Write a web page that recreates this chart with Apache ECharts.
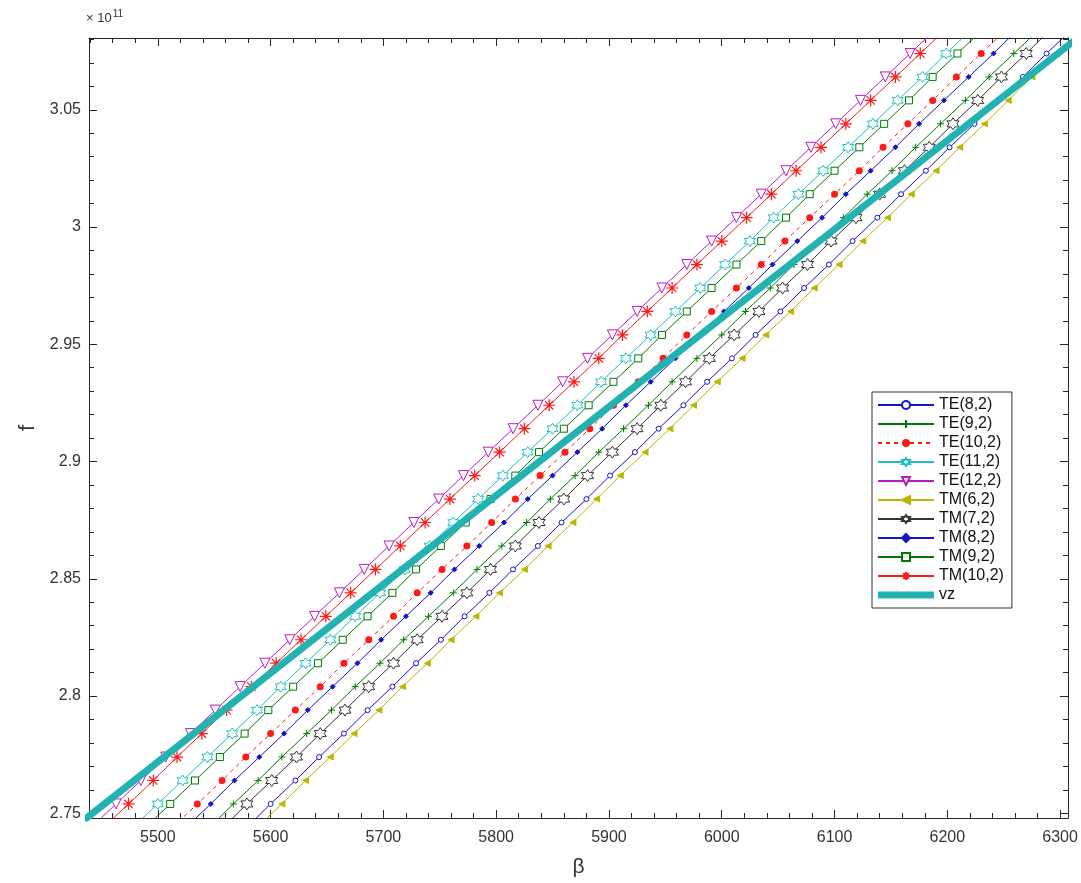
<!DOCTYPE html>
<html>
<head>
<meta charset="utf-8">
<script src="https://cdn.jsdelivr.net/npm/echarts@6/dist/echarts.min.js"></script>
<style>
html,body{margin:0;padding:0;background:#fff;}
#chart{width:1081px;height:883px;}
</style>
</head>
<body>
<div id="chart"></div>
<script>
// frequency rows (x 1e11 Hz) shared by all mode curves
const fRows = [2.744,2.754,2.764,2.774,2.784,2.794,2.804,2.814,2.824,2.834,2.844,2.854,2.864,2.874,2.884,2.894,2.904,2.914,2.924,2.934,2.944,2.954,2.964,2.974,2.984,2.994,3.004,3.014,3.024,3.034,3.044,3.054,3.064,3.074,3.084];

// beta values read for each mode at the rows above
const betaTE8  = [5579,5600,5622,5643,5665,5686,5708,5729,5751,5772,5794,5815,5837,5858,5880,5901,5923,5944,5966,5987,6009,6030,6052,6073,6095,6116,6138,6159,6181,6202,6224,6245,6267,6288,6310];
const betaTE9  = [5546,5567,5589,5610,5632,5654,5675,5697,5718,5740,5762,5783,5805,5827,5848,5870,5891,5913,5935,5956,5978,6000,6021,6043,6064,6086,6108,6129,6151,6172,6194,6216,6237,6259,6281];
const betaTE10 = [5513,5535,5557,5578,5600,5622,5644,5665,5687,5709,5730,5752,5774,5796,5817,5839,5861,5883,5904,5926,5948,5969,5991,6013,6035,6056,6078,6100,6122,6143,6165,6187,6208,6230,6252];
const betaTE11 = [5478,5500,5522,5544,5566,5588,5609,5631,5653,5675,5697,5719,5741,5762,5784,5806,5828,5850,5872,5893,5915,5937,5959,5981,6003,6025,6046,6068,6090,6112,6134,6156,6178,6199,6221];
const betaTE12 = [5441,5463,5485,5507,5529,5551,5573,5595,5617,5639,5661,5683,5705,5727,5749,5771,5793,5815,5837,5859,5881,5903,5925,5947,5969,5991,6013,6035,6057,6079,6101,6123,6145,6167,6189];
const betaTM6  = [5588,5610,5631,5653,5674,5696,5717,5739,5760,5782,5803,5825,5846,5868,5889,5910,5932,5954,5975,5996,6018,6039,6061,6082,6104,6125,6147,6168,6190,6211,6233,6254,6275,6297,6318];
const betaTM7  = [5558,5579,5601,5623,5644,5666,5687,5709,5730,5752,5774,5795,5817,5838,5860,5881,5903,5925,5946,5968,5989,6011,6033,6054,6076,6097,6119,6140,6162,6184,6205,6227,6248,6270,6291];
const betaTM8  = [5525,5547,5568,5590,5612,5633,5655,5677,5698,5720,5742,5763,5785,5807,5828,5850,5872,5894,5915,5937,5959,5980,6002,6024,6045,6067,6089,6110,6132,6154,6175,6197,6219,6241,6262];
const betaTM9  = [5489,5511,5533,5555,5577,5598,5620,5642,5664,5686,5708,5729,5751,5773,5795,5817,5838,5860,5882,5904,5926,5947,5969,5991,6013,6035,6057,6078,6100,6122,6144,6166,6187,6209,6231];
const betaTM10 = [5452,5474,5496,5517,5539,5561,5583,5605,5627,5649,5671,5693,5715,5737,5759,5781,5803,5825,5847,5869,5891,5912,5934,5956,5978,6000,6022,6044,6066,6088,6110,6132,6154,6176,6198];

// beam line vz
const betaVz = [5430, 5800, 6320];
const fVz    = [2.7454, 2.8855, 3.0823];

const modeNames = ['TE(8,2)','TE(9,2)','TE(10,2)','TE(11,2)','TE(12,2)','TM(6,2)','TM(7,2)','TM(8,2)','TM(9,2)','TM(10,2)'];

// tick labels
const xMajor = [5500,5600,5700,5800,5900,6000,6100,6200,6300];
const xMinor = [5440,5460,5480,5500,5520,5540,5560,5580,5600,5620,5640,5660,5680,5700,5720,5740,5760,5780,5800,5820,5840,5860,5880,5900,5920,5940,5960,5980,6000,6020,6040,6060,6080,6100,6120,6140,6160,6180,6200,6220,6240,6260,6280,6300];
const yMajor = [2.75,2.8,2.85,2.9,2.95,3,3.05];
const yMinor = [2.75,2.76,2.77,2.78,2.79,2.8,2.81,2.82,2.83,2.84,2.85,2.86,2.87,2.88,2.89,2.9,2.91,2.92,2.93,2.94,2.95,2.96,2.97,2.98,2.99,3,3.01,3.02,3.03,3.04,3.05,3.06,3.07,3.08];

const X_MIN = 5439, X_MAX = 6307, Y_MIN = 2.748, Y_MAX = 3.0806;

const PLUS = 'path://M0,-1L0,1M-1,0L1,0';
const STAR = 'path://M0,-1L0,1M-1,0L1,0M-0.7,-0.7L0.7,0.7M-0.7,0.7L0.7,-0.7';
const HEX = 'path://M0,-1L0.289,-0.5L0.866,-0.5L0.577,0L0.866,0.5L0.289,0.5L0,1L-0.289,0.5L-0.866,0.5L-0.577,0L-0.866,-0.5L-0.289,-0.5Z';

const styles = [
  {c:'#1414c8', sym:'circle', size:5, fill:'#ffffff', bw:1},
  {c:'#007a00', sym:PLUS, size:7, fill:'none', bw:1},
  {c:'#ff1a1a', sym:'circle', size:7, fill:'#ff1a1a', bw:0, dash:[4,4]},
  {c:'#1fbfbf', sym:HEX, size:11, fill:'#ffffff', bw:1},
  {c:'#b81cc0', sym:'triangle', size:10, fill:'#ffffff', bw:1, rot:180},
  {c:'#b8b800', sym:'triangle', size:6, fill:'#b8b800', bw:1, rot:90},
  {c:'#333333', sym:HEX, size:12, fill:'#ffffff', bw:1},
  {c:'#1414c8', sym:'diamond', size:5, fill:'#1414c8', bw:1},
  {c:'#007a00', sym:'rect', size:7, fill:'#ffffff', bw:1},
  {c:'#ff1a1a', sym:STAR, size:12, fill:'none', bw:1.2}
];
const betas = [betaTE8,betaTE9,betaTE10,betaTE11,betaTE12,betaTM6,betaTM7,betaTM8,betaTM9,betaTM10];

const series = modeNames.map((name, i) => {
  const s = styles[i];
  return {
    name: name,
    type: 'line',
    data: betas[i].map((b, k) => [b, fRows[k]]),
    color: s.c,
    symbol: s.sym,
    symbolSize: s.size,
    symbolRotate: s.rot || 0,
    showAllSymbol: true,
    lineStyle: {color: s.c, width: 1, type: s.dash ? s.dash : 'solid'},
    itemStyle: {color: s.fill, borderColor: s.c, borderWidth: s.bw},
    emphasis: {disabled: true},
    clip: true,
    z: 3
  };
});
series.push({
  name: 'vz',
  type: 'line',
  data: betaVz.map((b, k) => [b, fVz[k]]),
  color: '#22b2b2',
  symbol: 'none',
  lineStyle: {color: '#22b2b2', width: 7},
  itemStyle: {color: '#22b2b2'},
  emphasis: {disabled: true},
  clip: true,
  z: 4
});

const FONT = 'Liberation Sans, Arial, sans-serif';
const axisCol = '#262626';

function xAx(pos, major, label) {
  return {
    type: 'value', position: pos, min: X_MIN, max: X_MAX,
    axisLine: {show: major, lineStyle: {color: axisCol, width: 1}},
    axisTick: {show: true, inside: true, length: major ? 8 : 5, customValues: major ? xMajor : xMinor, lineStyle: {color: axisCol}},
    axisLabel: {show: label, customValues: xMajor, margin: 12, fontSize: 16, color: '#333', fontFamily: FONT,
      formatter: v => String(v)},
    splitLine: {show: false},
    name: label ? 'β' : '', nameLocation: 'middle', nameGap: 39,
    nameTextStyle: {fontSize: 21, color: '#333', fontFamily: FONT}
  };
}
function yAx(pos, major, label) {
  return {
    type: 'value', position: pos, min: Y_MIN, max: Y_MAX,
    axisLine: {show: major, lineStyle: {color: axisCol, width: 1}},
    axisTick: {show: true, inside: true, length: major ? 8 : 5, customValues: major ? yMajor : yMinor, lineStyle: {color: axisCol}},
    axisLabel: {show: label, customValues: yMajor, margin: 8, fontSize: 16, color: '#333', fontFamily: FONT,
      formatter: v => String(Number(v.toFixed(2)))},
    splitLine: {show: false},
    name: label ? 'f' : '', nameLocation: 'middle', nameGap: 50, nameRotate: 90,
    nameTextStyle: {fontSize: 22, color: '#333', fontFamily: FONT}
  };
}

const legendData = modeNames.map(n => ({name: n}));
legendData.push({name: 'vz', icon: 'path://M0,0H56V7H0Z'});

const chart = echarts.init(document.getElementById('chart'), null, {renderer: 'canvas'});
chart.setOption({
  animation: false,
  backgroundColor: '#ffffff',
  grid: {left: 89, right: 13, top: 38, bottom: 58, containLabel: false},
  xAxis: [xAx('bottom', true, true), xAx('bottom', false, false), xAx('top', true, false), xAx('top', false, false)],
  yAxis: [yAx('left', true, true), yAx('left', false, false), yAx('right', true, false), yAx('right', false, false)],
  legend: {
    orient: 'vertical', left: 872, top: 392,
    data: legendData,
    itemWidth: 56, itemHeight: 10, itemGap: 3,
    symbolKeepAspect: true,
    backgroundColor: '#ffffff', borderColor: '#333', borderWidth: 1,
    padding: [5, 8, 5, 5],
    textStyle: {fontSize: 16, color: '#111', fontFamily: FONT},
    selectedMode: false
  },
  graphic: [{
    type: 'text', left: 86, top: 9,
    style: {
      text: '{a|× 10}{b|11}',
      rich: {
        a: {fontSize: 13, fontFamily: FONT, fill: '#333'},
        b: {fontSize: 10, fontFamily: FONT, fill: '#333', verticalAlign: 'top', padding: [0,0,8,1]}
      }
    }
  }],
  series: series
});
</script>
</body>
</html>
